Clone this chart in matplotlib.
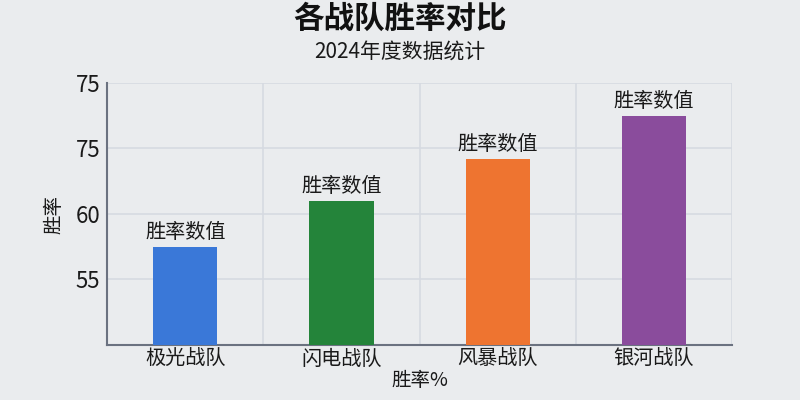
import matplotlib
matplotlib.use("Agg")
import matplotlib.pyplot as plt
import numpy as np

plt.rcParams['font.family'] = ['Noto Sans CJK SC', 'DejaVu Sans']

categories = ["极光战队", "闪电战队", "风暴战队", "银河战队"]
values = [57.5, 61.0, 64.2, 67.5]
bar_labels = ["胜率数值", "胜率数值", "胜率数值", "胜率数值"]
colors = ["#3a78d8", "#24843a", "#ee7430", "#8a4c9c"]
ytick_pos = [55, 60, 65, 70]
ytick_labels = ["55", "60", "75", "75"]

bg = "#eaecee"
fig = plt.figure(figsize=(8, 4), dpi=100, facecolor=bg)
ax = fig.add_axes([0.134, 0.1375, 0.781, 0.655])
ax.set_facecolor(bg)

x = np.arange(len(categories))
bars = ax.bar(x, values, width=0.41, color=colors, zorder=3)
for b, lab in zip(bars, bar_labels):
    ax.annotate(lab, (b.get_x() + b.get_width() / 2, b.get_height()),
                xytext=(0, 3), textcoords="offset points",
                ha="center", va="bottom", fontsize=14.5, color="#1a1a1a")

ax.set_xlim(-0.5, 3.5)
ax.set_ylim(50, 70)
ax.set_yticks(ytick_pos)
ax.set_yticklabels(ytick_labels, fontsize=16, color="#1a1a1a")
ax.set_xticks(x)
ax.set_xticklabels(categories, fontsize=14.5, color="#1a1a1a")
ax.set_xticks(x + 0.5, minor=True)
ax.tick_params(axis="both", which="both", length=0)
ax.tick_params(axis="y", pad=5)
ax.tick_params(axis="x", pad=3)

ax.grid(True, axis="y", which="major", color="#d6dae1", linewidth=1.2, zorder=0)
ax.grid(True, axis="x", which="minor", color="#d6dae1", linewidth=1.2, zorder=0)

for s in ["top", "right"]:
    ax.spines[s].set_visible(False)
for s in ["left", "bottom"]:
    ax.spines[s].set_color("#6b7280")
    ax.spines[s].set_linewidth(1.5)

ax.set_xlabel("胜率%", fontsize=14, color="#1a1a1a", labelpad=0)
ax.set_ylabel("胜率", fontsize=14, color="#1a1a1a", labelpad=8)

fig.text(0.5, 0.953, "各战队胜率对比", ha="center", va="center",
         fontsize=22, fontweight="heavy", color="#111111")
fig.text(0.5, 0.87, "2024年度数据统计", ha="center", va="center",
         fontsize=15, color="#1a1a1a")

fig.savefig("out.png", dpi=100, facecolor=bg)
